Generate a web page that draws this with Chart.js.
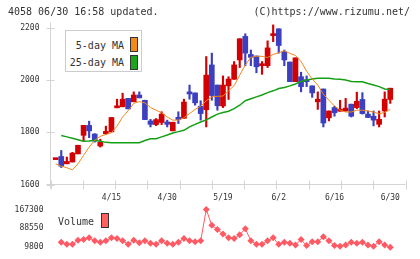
<!DOCTYPE html>
<html>
<head>
<meta charset="utf-8">
<script src="https://cdn.jsdelivr.net/npm/chart.js@4.4.1/dist/chart.umd.min.js"></script>
<style>
  body { margin: 0; background: #fff; }
  #wrap { position: relative; width: 420px; height: 259px; overflow: hidden; }
  canvas { position: absolute; left: 0; top: 0; }
  .txt { position: absolute; font: 10px "DejaVu Sans Mono", monospace; line-height: 10px; color: #333; white-space: nowrap; }
  .sw { position: absolute; width: 6px; height: 13px; border: 1px solid #333; }
</style>
</head>
<body>
<div id="wrap">
  <canvas id="price" width="420" height="259"></canvas>
  <canvas id="vol" width="420" height="259"></canvas>
  <div class="txt" style="left:8px;top:7px">4058 06/30 16:58 updated.</div>
  <div class="txt" style="right:10px;top:7px">(C)https://www.rizumu.net/</div>

  <div style="position:absolute;left:65px;top:30px;width:75px;height:40px;border:1px solid #ccc;background:#fff"></div>
  <div class="txt" style="right:296px;top:41px">5-day MA</div>
  <div class="sw" style="left:130px;top:37px;background:#f08c1c"></div>
  <div class="txt" style="right:296px;top:58px">25-day MA</div>
  <div class="sw" style="left:130px;top:55px;background:#1aa51a"></div>

  <div class="txt" style="left:58px;top:217px">Volume</div>
  <div class="sw" style="left:101px;top:213px;background:#ff5f5f"></div>
</div>
<script>
// ---- data (2021 trading days, 4/1 .. 6/30) ----
const dates = [
  "4/1","4/2","4/5","4/6","4/7","4/8","4/9","4/12","4/13","4/14","4/15","4/16","4/19","4/20","4/21","4/22","4/23","4/26","4/27","4/28","4/30",
  "5/6","5/7","5/10","5/11","5/12","5/13","5/14","5/17","5/18","5/19","5/20","5/21","5/24","5/25","5/26","5/27","5/28","5/31",
  "6/1","6/2","6/3","6/4","6/7","6/8","6/9","6/10","6/11","6/14","6/15","6/16","6/17","6/18","6/21","6/22","6/23","6/24","6/25","6/28","6/29","6/30"
];
const openP  = [1695,1707,1679,1686,1717,1788,1826,1793,1747,1794,1801,1893,1897,1929,1916,1942,1922,1843,1829,1837,1839,1805,1857,1853,1954,1950,1899,1886,2057,1980,1900,1977,2002,2076,2166,2097,2091,2054,2054,2169,2195,2107,2068,1993,2012,1998,1977,1916,1965,1855,1894,1880,1881,1907,1894,1925,1869,1861,1830,1881,1925];
const highP  = [1695,1730,1705,1723,1750,1826,1842,1794,1773,1823,1856,1926,1949,1929,1954,1954,1922,1849,1852,1878,1846,1838,1878,1926,1980,1950,1920,2089,2102,1980,2015,2012,2070,2157,2176,2114,2091,2070,2149,2210,2195,2114,2068,2084,2029,2015,1977,1954,1965,1881,1899,1922,1929,1907,1953,1951,1881,1881,1881,1954,1968];
const lowP   = [1695,1665,1679,1686,1717,1766,1779,1762,1743,1792,1801,1893,1897,1889,1916,1931,1848,1820,1825,1829,1820,1805,1833,1853,1926,1903,1846,1820,1922,1884,1894,1925,2002,2047,2054,2054,2027,2021,2047,2146,2102,2054,1993,1993,1954,1974,1933,1887,1820,1843,1861,1880,1880,1858,1890,1869,1856,1824,1820,1858,1910];
const closeP = [1695,1670,1688,1720,1750,1826,1805,1766,1761,1803,1856,1899,1926,1889,1942,1931,1848,1830,1848,1869,1830,1838,1848,1915,1946,1912,1871,2018,1940,1901,1980,2003,2057,2157,2102,2086,2050,2057,2122,2172,2131,2076,1993,2084,1974,1993,1950,1926,1835,1881,1874,1883,1892,1861,1918,1871,1856,1846,1849,1926,1968];
const ma5 = [1679,1670,1664,1656,1679,1711,1743,1769,1784,1791,1798,1823,1858,1882,1910,1917,1912,1894,1884,1874,1858,1846,1846,1855,1871,1887,1899,1920,1935,1937,1938,1958,1978,2018,2057,2086,2090,2090,2085,2097,2104,2111,2101,2093,2070,2033,2003,1980,1945,1922,1900,1884,1877,1877,1884,1884,1881,1877,1870,1876,1887];
const ma25 = [null,1787,1782,1777,1771,1765,1766,1769,1765,1761,1760,1760,1760,1760,1760,1760,1768,1775,1775,1782,1789,1797,1802,1807,1820,1830,1839,1847,1858,1869,1875,1880,1890,1903,1920,1928,1935,1942,1951,1958,1967,1971,1977,1984,1994,1999,2003,2006,2006,2006,2003,2002,1999,1994,1993,1993,1986,1980,1974,1965,1963];
const volume = [null,30000,21900,21900,39300,42100,48900,36700,30000,36700,48900,46100,36700,21900,39300,28800,36700,26000,21900,36700,26000,21900,30000,46100,36700,32800,36700,167300,101000,83700,65000,48900,46100,61500,87000,36700,21900,21900,36700,48900,21900,30000,26000,19100,42100,16500,32800,32800,53000,36700,16500,13800,19100,30000,26000,30000,19100,13800,32800,19100,9800];

const priceTicks = [1600, 1800, 2000, 2200];
const volTicks = [9800, 88550, 167300];
const labelIdx = [10, 20, 30, 40, 50, 60];

const UP = "#d20000", DOWN = "#3c40c0";
const VOLC = "#ff5a64";
const FONT = "DejaVu Sans Mono";
const xMin = -0.93, xMax = 62.73;

const candleColors = dates.map((d, i) => closeP[i] >= openP[i] ? UP : DOWN);

// axis lines + crossing tick marks
const axisLines = {
    id: "axisLines",
    beforeDatasetsDraw(chart) {
        const { ctx, chartArea: a, scales } = chart;
        ctx.save();
        ctx.strokeStyle = "#d4d4d4";
        ctx.lineWidth = 1;
        ctx.beginPath();
        ctx.moveTo(a.left, a.top - 5);
        ctx.lineTo(a.left, a.bottom + 4);
        ctx.moveTo(a.left - 4, a.bottom);
        ctx.lineTo(a.right, a.bottom);
        priceTicks.forEach(v => {
            const y = Math.round(scales.y.getPixelForValue(v)) + 0.5;
            ctx.moveTo(a.left - 4, y);
            ctx.lineTo(a.left + 4, y);
        });
        for (let k = 0; k <= 11; k++) {
            const x = Math.round(a.left + k * (a.right - a.left) / 11) + 0.5;
            ctx.moveTo(x, a.bottom - 4);
            ctx.lineTo(x, a.bottom + 5);
        }
        ctx.stroke();
        ctx.restore();
    }
};

new Chart(document.getElementById("price"), {
    type: "bar",
    data: {
        datasets: [
            {
                type: "line",
                data: ma5.map((v, i) => ({ x: i, y: v })),
                borderColor: "#f0881a",
                borderWidth: 1,
                pointRadius: 0,
                tension: 0,
                order: 1
            },
            {
                type: "line",
                data: ma25.map((v, i) => ({ x: i, y: v })),
                borderColor: "#14a014",
                borderWidth: 1.5,
                pointRadius: 0,
                tension: 0,
                order: 2
            },
            {
                data: dates.map((d, i) => ({ x: i, y: [openP[i], closeP[i]] })),
                backgroundColor: candleColors,
                barThickness: 5,
                minBarLength: 2,
                grouped: false,
                clip: false,
                order: 3
            },
            {
                data: dates.map((d, i) => ({ x: i, y: [lowP[i], highP[i]] })),
                backgroundColor: candleColors,
                barThickness: 1.5,
                grouped: false,
                clip: false,
                order: 4
            }
        ]
    },
    options: {
        responsive: false,
        devicePixelRatio: 1,
        animation: false,
        layout: { padding: { top: 27.5, right: 14.5, left: 0, bottom: 0 } },
        plugins: { legend: { display: false }, tooltip: { enabled: false } },
        scales: {
            x: {
                type: "linear",
                min: xMin,
                max: xMax,
                offset: false,
                afterFit: s => { s.height = 74.5; },
                afterBuildTicks: s => { s.ticks = labelIdx.map(v => ({ value: v })); },
                grid: { display: false, drawTicks: false },
                border: { display: false },
                ticks: {
                    autoSkip: false,
                    maxRotation: 0,
                    padding: 9,
                    color: "#333",
                    font: { family: FONT, size: 8 },
                    callback: v => dates[v]
                }
            },
            y: {
                min: 1600,
                max: 2200,
                afterFit: s => { s.width = 50.5; },
                afterBuildTicks: s => { s.ticks = priceTicks.map(v => ({ value: v })); },
                grid: { display: false, drawTicks: false },
                border: { display: false },
                ticks: {
                    padding: 11,
                    color: "#333",
                    font: { family: FONT, size: 8 },
                    callback: v => String(v)
                }
            }
        }
    },
    plugins: [axisLines]
});

new Chart(document.getElementById("vol"), {
    type: "line",
    data: {
        datasets: [{
            data: volume.map((v, i) => ({ x: i, y: v })),
            borderColor: VOLC,
            backgroundColor: VOLC,
            borderWidth: 1,
            pointStyle: "rectRot",
            pointRadius: 3.5,
            pointBorderWidth: 0,
            tension: 0,
            clip: false
        }]
    },
    options: {
        responsive: false,
        devicePixelRatio: 1,
        animation: false,
        layout: { padding: { top: 209.5, right: 14.5, left: 0, bottom: 9.5 } },
        plugins: { legend: { display: false }, tooltip: { enabled: false } },
        scales: {
            x: { type: "linear", min: xMin, max: xMax, display: false },
            y: {
                min: 9800,
                max: 167300,
                afterFit: s => { s.width = 50.5; },
                afterBuildTicks: s => { s.ticks = volTicks.map(v => ({ value: v })); },
                grid: { display: false, drawTicks: false },
                border: { display: false },
                ticks: {
                    padding: 7,
                    color: "#333",
                    font: { family: FONT, size: 8 },
                    callback: v => String(v)
                }
            }
        }
    }
});
</script>
</body>
</html>
